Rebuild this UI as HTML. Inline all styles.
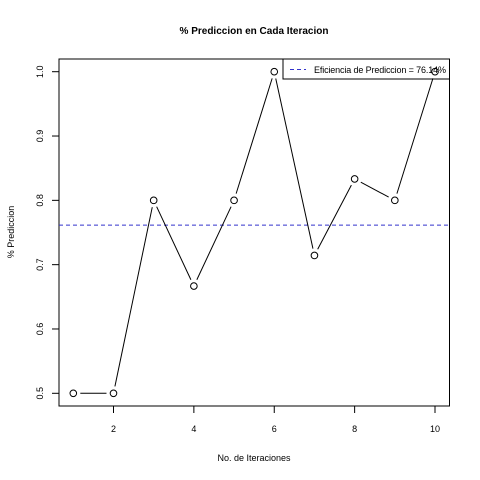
<!DOCTYPE html>
<html><head><meta charset="utf-8"><style>body{margin:0;background:#fff}svg{display:block;font-family:"Liberation Sans",sans-serif}</style></head>
<body>
<svg id="c" width="480" height="480" viewBox="0 0 480 480">
<rect width="480" height="480" fill="#fff"/>
<text x="254" y="34" font-size="10" font-weight="bold" text-anchor="middle">% Prediccion en Cada Iteracion</text>
<text x="254" y="461" font-size="9" text-anchor="middle">No. de Iteraciones</text>
<text transform="translate(14,232) rotate(-90)" font-size="9" text-anchor="middle">% Prediccion</text>
<rect x="59" y="59" width="390.5" height="347" fill="none" stroke="#000" stroke-width="1"/>
<g id="xt"></g>
<g id="yt"></g>
<g>
<rect x="283" y="59" width="166.5" height="20" fill="#fff" stroke="#000"/>
<line x1="290" y1="69.5" x2="306" y2="69.5" stroke="#3333cc" stroke-dasharray="4,3"/>
<text id="lt" x="314" y="73" font-size="9" textLength="132"></text>
</g>
<g id="s"></g>
</svg>
<script>
const iterations=[1,2,3,4,5,6,7,8,9,10];
const accuracy=[0.5,0.5,0.8,0.6667,0.8,1.0,0.7143,0.8333,0.8,1.0];
const xTicks=[2,4,6,8,10];
const yTicks=[0.5,0.6,0.7,0.8,0.9,1.0];
const NS="http://www.w3.org/2000/svg";
const X=v=>73.3+(v-1)*40.19;
const Y=v=>393.3-(v-0.5)*643.2;
function mk(t,a,p){const e=document.createElementNS(NS,t);for(const k in a)e.setAttribute(k,a[k]);p.appendChild(e);return e;}
const xt=document.getElementById('xt'),yt=document.getElementById('yt'),s=document.getElementById('s');
xTicks.forEach(v=>{const l=mk('line',{x1:X(v),x2:X(v),y1:406,y2:413,stroke:'#000'},xt);


const t=mk('text',{x:X(v),y:432,'font-size':9,'text-anchor':'middle'},xt);t.textContent=v;

});
yTicks.forEach(v=>{const l=mk('line',{x1:52,x2:59,y1:Y(v),y2:Y(v),stroke:'#000'},yt);


const t=mk('text',{transform:`translate(43,${Y(v)}) rotate(-90)`,'font-size':9,'text-anchor':'middle'},yt);t.textContent=v.toFixed(1);

});
const mean=accuracy.reduce((a,b)=>a+b,0)/accuracy.length;
const ml=mk('line',{x1:59,x2:449.5,y1:Y(mean),y2:Y(mean),stroke:'#3333cc','stroke-dasharray':'4,3'},s);


document.getElementById('lt').textContent='Eficiencia de Prediccion = '+(mean*100).toFixed(2)+'%';
for(let i=0;i<accuracy.length-1;i++){
const x1=X(iterations[i]),y1=Y(accuracy[i]),x2=X(iterations[i+1]),y2=Y(accuracy[i+1]);
const dx=x2-x1,dy=y2-y1,d=Math.hypot(dx,dy),r=7;
if(d>2*r){const l=mk('line',{x1:x1+dx/d*r,y1:y1+dy/d*r,x2:x2-dx/d*r,y2:y2-dy/d*r,stroke:'#000'},s);

}
}
accuracy.forEach((v,i)=>{const c=mk('circle',{cx:X(iterations[i]),cy:Y(v),r:3.3,fill:'none',stroke:'#000'},s);

});
</script>
</body></html>
